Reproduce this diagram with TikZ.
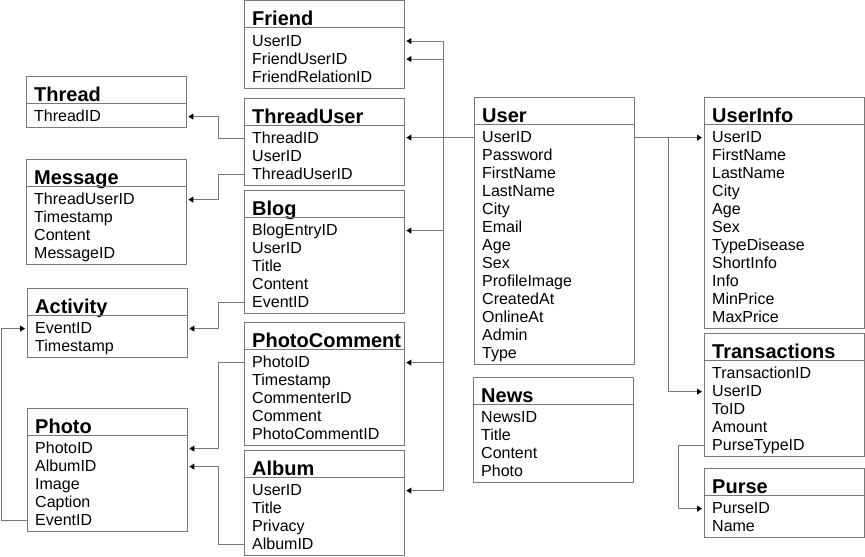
\documentclass[tikz,border=0pt]{standalone}
\usepackage{fontspec}
\setmainfont{Liberation Sans}
\usetikzlibrary{arrows.meta, fit}

\definecolor{linegray}{RGB}{120,120,120}

\tikzset{
  tabtitle/.style={anchor=north west, inner xsep=8pt, inner ysep=0pt,
    text width=144pt, align=left, text height=25pt, text depth=2pt,
    font=\fontsize{20}{20}\selectfont\bfseries},
  tabfield/.style={anchor=north, inner xsep=8pt, inner ysep=0pt,
    text width=144pt, align=left, text height=14pt, text depth=4pt,
    font=\fontsize{16}{18}\selectfont},
  tabbox/.style={draw=linegray, line width=0.9pt, inner sep=0pt},
  conn/.style={draw=linegray, line width=0.9pt},
  fk/.style={conn, -{Triangle[length=5pt, width=6pt, black]}, shorten >=2pt}
}

% one table: name, top left corner, title, fields
\newcommand{\dbtable}[4]{%
  \node[tabtitle] (#1-0) at (#2) {#3};
  \foreach \f [count=\i] in {#4} {
    \node[tabfield] (#1-\i) at ([yshift={-4pt-18pt*(\i-1)}]#1-0.south) {\f};
    \xdef\lastrow{\i}
  }
  \coordinate (#1-end) at ([yshift=-2pt]#1-\lastrow.south);
  \node[tabbox, fit=(#1-0)(#1-\lastrow)(#1-end)] (#1) {};
  \draw[conn] (#1-0.south west) -- (#1-0.south east);
}

\begin{document}
\begin{tikzpicture}[x=1pt, y=-1pt]
  \useasboundingbox (0,0) rectangle (865,557);

  % left column
  \dbtable{thread}{26,76}{Thread}{ThreadID}
  \dbtable{message}{26,159}{Message}{ThreadUserID,Timestamp,Content,MessageID}
  \dbtable{activity}{27,288}{Activity}{EventID,Timestamp}
  \dbtable{photo}{27,408}{Photo}{PhotoID,AlbumID,Image,Caption,EventID}

  % middle column
  \dbtable{friend}{244,0.5}{Friend}{UserID,FriendUserID,FriendRelationID}
  \dbtable{threaduser}{244,98}{ThreadUser}{ThreadID,UserID,ThreadUserID}
  \dbtable{blog}{244,190}{Blog}{BlogEntryID,UserID,Title,Content,EventID}
  \dbtable{photocomment}{244,322}{PhotoComment}{PhotoID,Timestamp,CommenterID,Comment,PhotoCommentID}
  \dbtable{album}{244,450}{Album}{UserID,Title,Privacy,AlbumID}

  % user and news
  \dbtable{user}{474,97}{User}{UserID,Password,FirstName,LastName,City,Email,Age,Sex,ProfileImage,CreatedAt,OnlineAt,Admin,Type}
  \dbtable{news}{473,377}{News}{NewsID,Title,Content,Photo}

  % right column
  \dbtable{userinfo}{704,97}{UserInfo}{UserID,FirstName,LastName,City,Age,Sex,TypeDisease,ShortInfo,Info,MinPrice,MaxPrice}
  \dbtable{transactions}{704,333}{Transactions}{TransactionID,UserID,ToID,Amount,PurseTypeID}
  \dbtable{purse}{704,468}{Purse}{PurseID,Name}

  % bus lines
  \coordinate (ubus) at (443,0);
  \coordinate (tbus) at (668,0);

  % User to the left
  \draw[fk] (user-1.west) -- (threaduser-1.east |- user-1);
  \draw[conn] (ubus |- friend-1) -- (ubus |- album-1);
  \foreach \t in {friend-1, friend-2, blog-1, photocomment-1, album-1}
    \draw[fk] (ubus |- \t) -- (\t.east);

  % User to the right
  \draw[fk] (user-1.east) -- (userinfo-1.west);
  \draw[fk] (tbus |- user-1) |- (transactions-2.west);
  \draw[fk] (transactions-5.west) -- ++(-26,0) |- (purse-1.west);

  % middle to left
  \draw[fk] (threaduser-1.west) -- ++(-26,0) |- (thread-1.east);
  \draw[fk] (threaduser-3.west) -- ++(-26,0) |- (message-1.east);
  \draw[fk] (blog-5.west) -- ++(-26,0) |- (activity-1.east);
  \draw[fk] (photocomment-1.west) -- ++(-26,0) |- (photo-1.east);
  \draw[fk] (album-4.west) -- ++(-26,0) |- (photo-2.east);
  \draw[fk] (photo-5.west) -- ++(-26,0) |- (activity-1.west);
\end{tikzpicture}
\end{document}
